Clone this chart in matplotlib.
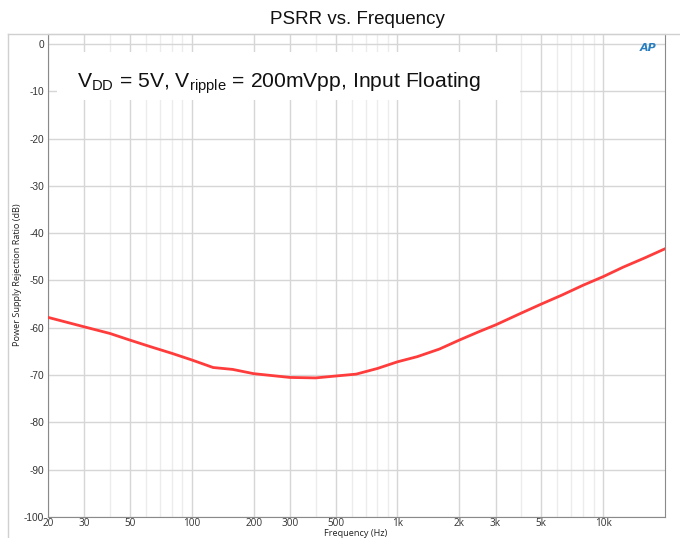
import matplotlib
matplotlib.use("Agg")
import matplotlib.pyplot as plt
from matplotlib.patches import Rectangle
from matplotlib.lines import Line2D
import numpy as np

# data
freq = [20, 30, 40, 50, 63, 80, 100, 127, 158, 200, 300, 400, 500, 630,
        800, 1000, 1250, 1600, 2000, 2500, 3000, 4000, 5000, 6300, 8000,
        10000, 12500, 16000, 20000]
psrr = [-57.8, -59.8, -61.2, -62.6, -64.0, -65.4, -66.8, -68.4, -68.8,
        -69.7, -70.5, -70.6, -70.2, -69.8, -68.6, -67.2, -66.1, -64.5, -62.6,
        -60.8, -59.4, -56.9, -55.0, -53.1, -51.0, -49.2, -47.2, -45.2, -43.3]

major_ticks = [20, 30, 50, 100, 200, 300, 500, 1000, 2000, 3000, 5000, 10000]
major_labels = ['20', '30', '50', '100', '200', '300', '500', '1k', '2k', '3k', '5k', '10k']
minor_ticks = [40, 60, 70, 80, 90, 400, 600, 700, 800, 900, 4000, 6000, 7000,
               8000, 9000]
y_ticks = list(range(0, -101, -10))

plt.rcParams['mathtext.fontset'] = 'custom'
plt.rcParams['mathtext.rm'] = 'Liberation Sans'

fig = plt.figure(figsize=(6.8, 5.38), dpi=100)
ax = fig.add_axes([48/680, 1-517/538, (665-48)/680, (517-34)/538])

ax.set_xscale('log')
ax.set_xlim(20, 20000)
ax.set_ylim(-100, 2.1)

for f in minor_ticks:
    ax.axvline(f, color='#ececec', lw=1, zorder=0)
for f in major_ticks:
    ax.axvline(f, color='#d6d6d6', lw=1, zorder=0)
for v in y_ticks:
    ax.axhline(v, color='#d6d6d6', lw=1, zorder=0)

ax.plot(freq, psrr, color='#ff3c3c', lw=2.0, zorder=3)

ax.set_xticks(major_ticks)
ax.set_xticklabels(major_labels, fontfamily='Open Sans', fontsize=7.2, color='#333333')
ax.xaxis.set_minor_locator(matplotlib.ticker.NullLocator())
ax.set_yticks(y_ticks)
ax.set_yticklabels([str(v) for v in y_ticks], fontfamily='Liberation Sans',
                   fontsize=7.3, color='#333333')
ax.tick_params(length=0, pad=3)
ax.tick_params(axis='x', pad=0.5)

for s in ['left', 'bottom', 'right']:
    ax.spines[s].set_color('#8a8a8a')
ax.spines['top'].set_color('#c8c8c8')

# outer frame lines
fig.add_artist(Line2D([8/680, 8/680], [0, 1-34/538], color='#d0d0d0', lw=1))
fig.add_artist(Line2D([8/680, 1], [1-34/538, 1-34/538], color='#d0d0d0', lw=1))

fig.text(357/680, 1-20/538, 'PSRR vs. Frequency', ha='center', va='center',
         fontfamily='Liberation Sans', fontsize=13.5, color='#111111')

ax.add_patch(Rectangle((57/680, 1-100/538), 463/680, 48/538, transform=fig.transFigure,
                       facecolor='white', edgecolor='none', zorder=2))
fig.text(77/680, 1-87/538,
         r'V$_{\mathregular{DD}}$ = 5V, V$_{\mathregular{ripple}}$ = 200mVpp, Input Floating',
         ha='left', va='baseline', fontfamily='Liberation Sans', fontsize=15.2,
         color='#111111', zorder=5)

fig.text(648/680, 1-48/538, 'AP', ha='center', va='center', fontfamily='DejaVu Sans',
         fontsize=8, fontweight='bold', fontstyle='italic', color='#2a7fc0')

fig.text(18/680, 1-275/538, 'Power Supply Rejection Ratio (dB)', rotation=90,
         ha='center', va='center', fontfamily='Open Sans', fontsize=6.6, color='#222222')
fig.text(356/680, 0.5/538, 'Frequency (Hz)', ha='center', va='bottom',
         fontfamily='Open Sans', fontsize=6.6, color='#222222')

fig.savefig('out.png', dpi=100)
